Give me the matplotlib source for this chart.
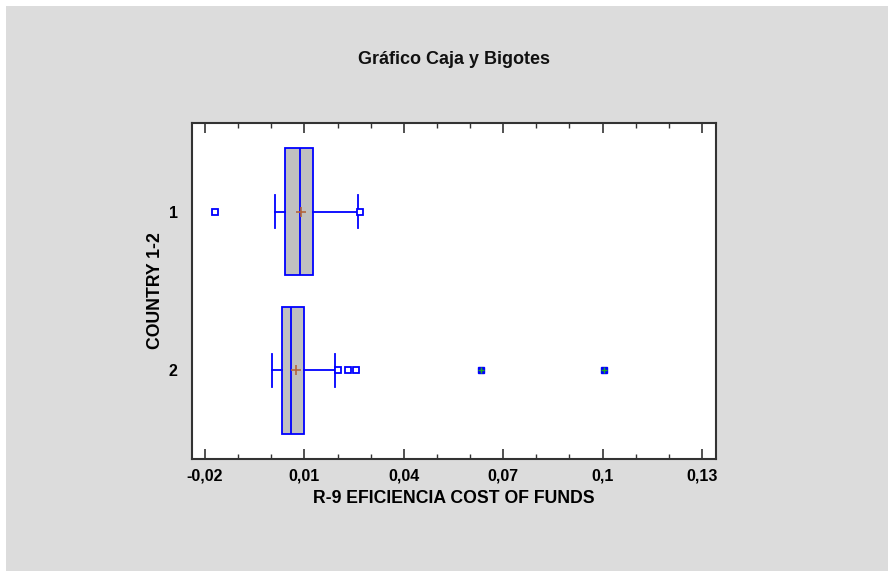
import matplotlib
matplotlib.use("Agg")
import matplotlib.pyplot as plt
from matplotlib.patches import Rectangle
from matplotlib.ticker import MultipleLocator

# summary stats for each country
groups = ["1", "2"]
q1 = [0.0042, 0.0032]
med = [0.0086, 0.0060]
q3 = [0.0125, 0.0099]
mean = [0.0090, 0.0076]
whislo = [0.0012, 0.0002]
whishi = [0.0262, 0.0192]
outliers = [[-0.0170, 0.0268], [0.0202, 0.0233, 0.0255]]
far_outliers = [[], [0.0634, 0.1003]]

xticks = [-0.02, 0.01, 0.04, 0.07, 0.10, 0.13]
xticklabels = ["-0,02", "0,01", "0,04", "0,07", "0,1", "0,13"]

plt.rcParams["font.family"] = ["Liberation Sans", "DejaVu Sans"]

fig = plt.figure(figsize=(8.88, 5.71), dpi=100, facecolor="white")
fig.patches.append(Rectangle((6 / 888, 0), 1, 1 - 6 / 571, transform=fig.transFigure,
                             facecolor="#dcdcdc", edgecolor="none", zorder=-10))

ax = fig.add_axes([0.2159, 0.1961, 0.590, 0.589])

stats = []
for i in range(len(groups)):
    stats.append(dict(label=groups[i], q1=q1[i], med=med[i], q3=q3[i], mean=mean[i],
                      whislo=whislo[i], whishi=whishi[i], fliers=outliers[i]))

blue = "#0000ff"
ax.bxp(stats, positions=[1, 2], widths=0.8, vert=False, patch_artist=True,
       showmeans=True, capwidths=0.21,
       boxprops=dict(facecolor="#c0c0c0", edgecolor=blue, linewidth=1.3),
       medianprops=dict(color=blue, linewidth=1.3),
       whiskerprops=dict(color=blue, linewidth=1.3),
       capprops=dict(color=blue, linewidth=1.3),
       meanprops=dict(marker="+", markeredgecolor="#b4643c", markersize=7, markeredgewidth=1.2),
       flierprops=dict(marker="s", markerfacecolor="white", markeredgecolor=blue,
                       markersize=5, markeredgewidth=1.3))

# extreme outliers: filled squares with a cross
for i, vals in enumerate(far_outliers):
    if vals:
        ax.plot(vals, [i + 1] * len(vals), ls="none", marker="s", markersize=5,
                markerfacecolor=blue, markeredgecolor=blue)
        ax.plot(vals, [i + 1] * len(vals), ls="none", marker="+", markersize=4,
                markeredgecolor="#22aa22", markeredgewidth=1)

ax.set_xlim(-0.024, 0.1341)
ax.set_ylim(2.56, 0.44)
ax.set_xticks(xticks)
ax.set_xticklabels(xticklabels, fontsize=11.5, fontweight="bold")
ax.xaxis.set_minor_locator(MultipleLocator(0.01))
ax.tick_params(axis="x", which="both", direction="in", top=True, bottom=True, color="#333333")
ax.tick_params(axis="x", which="major", length=7, width=1.2, pad=7)
ax.tick_params(axis="x", which="minor", length=3.5, width=1)
ax.set_yticks([1, 2])
ax.set_yticklabels(groups, fontsize=11.5, fontweight="bold")
ax.tick_params(axis="y", length=0, pad=10)

for s in ax.spines.values():
    s.set_color("#333333")
    s.set_linewidth(1.5)

ax.set_xlabel("R-9 EFICIENCIA COST OF FUNDS", fontsize=12.7, fontweight="bold")
ax.xaxis.set_label_coords(0.5, -0.092)
ax.set_ylabel("COUNTRY 1-2", fontsize=12.7, fontweight="bold")
ax.yaxis.set_label_coords(-0.052, 0.5)
fig.text(0.511, 1 - 64 / 571, "Gráfico Caja y Bigotes", ha="center", va="baseline",
         fontsize=13, fontweight="bold", color="#111111")

fig.savefig("out.png", dpi=100, facecolor=fig.get_facecolor())
